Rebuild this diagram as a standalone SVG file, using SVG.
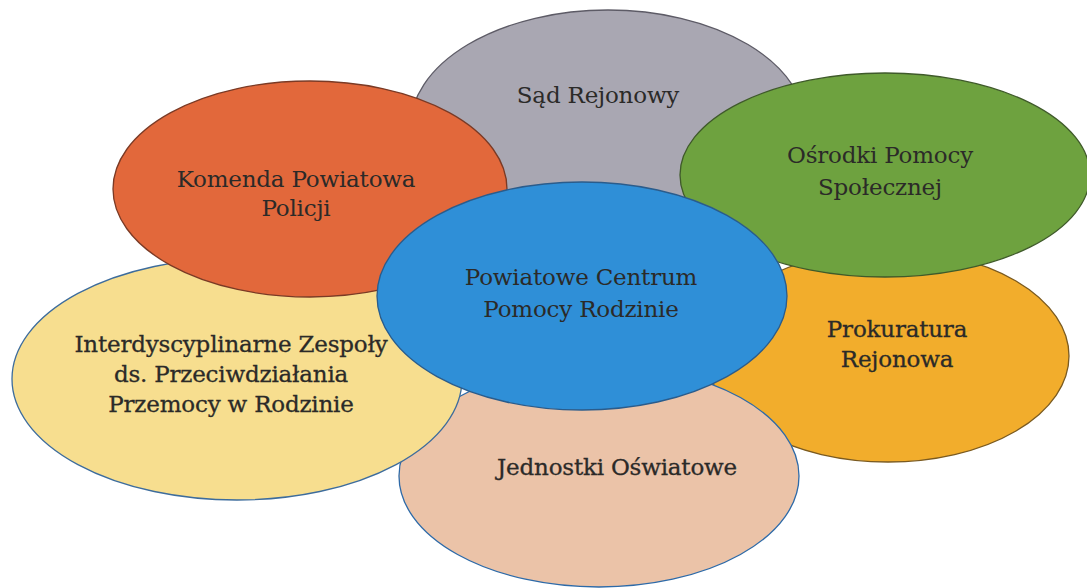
<svg xmlns="http://www.w3.org/2000/svg" width="1087" height="588" viewBox="0 0 1087 588">
<style>
text{font-family:"DejaVu Serif","Liberation Serif",serif;font-size:23px;fill:#2b2a28;text-anchor:middle;letter-spacing:-0.2px}
.h{stroke:#2b2a28;stroke-width:0.3px}
ellipse{stroke-width:1.3}
</style>
<rect width="1087" height="588" fill="#ffffff"/>
<g id="sad">
<ellipse cx="608" cy="128" rx="198" ry="118" fill="#a9a7b2" stroke="#5d5b66"/>
<text x="598" y="103">Sąd Rejonowy</text>
</g>
<g id="prokuratura">
<ellipse cx="888" cy="356" rx="181" ry="106" fill="#f2ad2c" stroke="#7a5a20"/>
<text class="h" x="897" y="337">Prokuratura</text>
<text class="h" x="897" y="367">Rejonowa</text>
</g>
<g id="jednostki">
<ellipse cx="599" cy="476" rx="200" ry="111" fill="#ebc3a8" stroke="#2d6aa8"/>
<text class="h" x="617" y="475">Jednostki Oświatowe</text>
</g>
<g id="interdyscyplinarne">
<ellipse cx="237" cy="379" rx="225" ry="121" fill="#f7de8f" stroke="#3d6c9c"/>
<text class="h" x="231" y="352">Interdyscyplinarne Zespoły</text>
<text class="h" x="231" y="382">ds. Przeciwdziałania</text>
<text class="h" x="231" y="412">Przemocy w Rodzinie</text>
</g>
<g id="komenda">
<ellipse cx="310" cy="189" rx="197" ry="108" fill="#e2683b" stroke="#7a3a25"/>
<text x="296" y="187">Komenda Powiatowa</text>
<text x="296" y="216">Policji</text>
</g>
<g id="osrodki">
<ellipse cx="885" cy="175" rx="205" ry="102" fill="#6ea23f" stroke="#3f5a2a"/>
<text x="880" y="163">Ośrodki Pomocy</text>
<text x="880" y="195">Społecznej</text>
</g>
<g id="pcpr">
<ellipse cx="582" cy="296" rx="205" ry="114" fill="#2f8fd7" stroke="#2a5c8c"/>
<text x="581" y="285">Powiatowe Centrum</text>
<text x="581" y="317">Pomocy Rodzinie</text>
</g>
<g id="connectors"/>
</svg>
